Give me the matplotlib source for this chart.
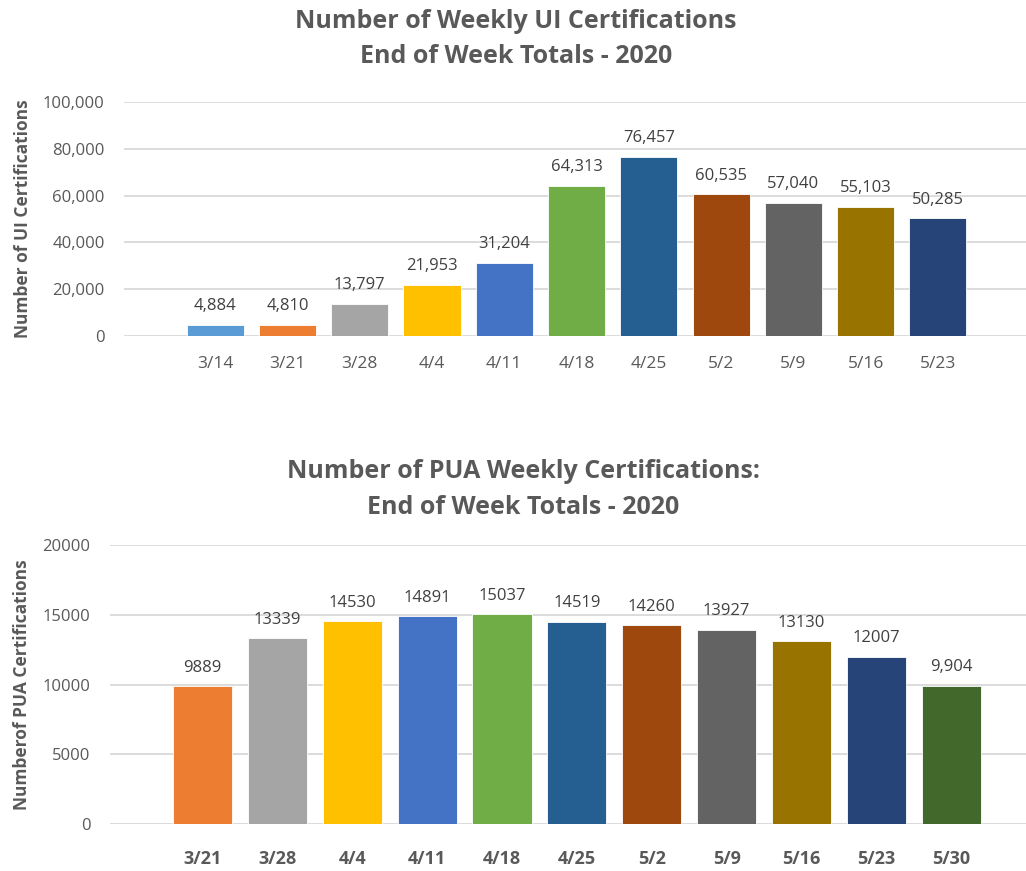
import matplotlib
matplotlib.use("Agg")
import matplotlib.pyplot as plt
from matplotlib.ticker import FuncFormatter

plt.rcParams['font.family'] = ['Open Sans', 'DejaVu Sans']

# ---- Data: UI certifications ----
ui_weeks = ["3/14", "3/21", "3/28", "4/4", "4/11", "4/18", "4/25", "5/2", "5/9", "5/16", "5/23"]
ui_values = [4884, 4810, 13797, 21953, 31204, 64313, 76457, 60535, 57040, 55103, 50285]
ui_labels = ["4,884", "4,810", "13,797", "21,953", "31,204", "64,313", "76,457",
             "60,535", "57,040", "55,103", "50,285"]
ui_colors = ["#5B9BD5", "#ED7D31", "#A5A5A5", "#FFC000", "#4472C4", "#70AD47",
             "#255E91", "#9E480E", "#636363", "#997300", "#264478"]

# ---- Data: PUA certifications ----
pua_weeks = ["3/21", "3/28", "4/4", "4/11", "4/18", "4/25", "5/2", "5/9", "5/16", "5/23", "5/30"]
pua_values = [9889, 13339, 14530, 14891, 15037, 14519, 14260, 13927, 13130, 12007, 9904]
pua_labels = ["9889", "13339", "14530", "14891", "15037", "14519", "14260",
              "13927", "13130", "12007", "9,904"]
pua_colors = ["#ED7D31", "#A5A5A5", "#FFC000", "#4472C4", "#70AD47", "#255E91",
              "#9E480E", "#636363", "#997300", "#264478", "#43682B"]

TXT = "#595959"
GRID = "#D9D9D9"

fig = plt.figure(figsize=(10.26, 8.71), dpi=100)

# ---------- Top chart ----------
ax1 = fig.add_axes([0.121, 0.614, 0.879, 0.269])
x1 = range(len(ui_weeks))
bars = ax1.bar(x1, ui_values, width=0.79, color=ui_colors, zorder=3,
               edgecolor="#FFFFFF", linewidth=0.6)
for b, lab in zip(bars, ui_labels):
    ax1.text(b.get_x() + b.get_width() / 2, b.get_height() + 4600, lab,
             ha="center", va="bottom", fontsize=12, color="#404040")
ax1.set_ylim(0, 100000)
ax1.set_yticks(range(0, 100001, 20000))
ax1.yaxis.set_major_formatter(FuncFormatter(lambda v, p: f"{int(v):,}"))
ax1.set_xlim(-1.26, 11.22)
ax1.set_xticks(list(x1))
ax1.set_xticklabels(ui_weeks)
ax1.grid(axis="y", color=GRID, linewidth=1.3, zorder=0)
for s in ax1.spines.values():
    s.set_visible(False)
ax1.tick_params(axis="both", length=0, labelsize=12, colors=TXT)
ax1.tick_params(axis="x", pad=14, labelsize=12.5)
ax1.tick_params(axis="y", pad=14)
ax1.set_ylabel("Number of UI Certifications", fontsize=12.5, fontweight="bold",
               color=TXT, labelpad=8)
fig.text(0.503, 0.955, "Number of Weekly UI Certifications\nEnd of Week Totals - 2020",
         ha="center", va="center", fontsize=18, fontweight="bold", color=TXT,
         linespacing=1.55)

# ---------- Bottom chart ----------
ax2 = fig.add_axes([0.107, 0.054, 0.893, 0.320])
x2 = range(len(pua_weeks))
bars2 = ax2.bar(x2, pua_values, width=0.79, color=pua_colors, zorder=3,
                edgecolor="#FFFFFF", linewidth=0.6)
for b, lab in zip(bars2, pua_labels):
    ax2.text(b.get_x() + b.get_width() / 2, b.get_height() + 750, lab,
             ha="center", va="bottom", fontsize=12, color="#404040")
ax2.set_ylim(0, 20000)
ax2.set_yticks(range(0, 20001, 5000))
ax2.set_xlim(-1.24, 11.0)
ax2.set_xticks(list(x2))
ax2.set_xticklabels(pua_weeks, fontweight="bold")
ax2.grid(axis="y", color=GRID, linewidth=1.3, zorder=0)
for s in ax2.spines.values():
    s.set_visible(False)
ax2.tick_params(axis="both", length=0, labelsize=12, colors=TXT)
ax2.tick_params(axis="x", pad=19, labelsize=13)
ax2.tick_params(axis="y", pad=14)
ax2.set_ylabel("Numberof PUA Certifications", fontsize=12.5, fontweight="bold",
               color=TXT, labelpad=8)
fig.text(0.51, 0.438, "Number of PUA Weekly Certifications:\nEnd of Week Totals - 2020",
         ha="center", va="center", fontsize=18, fontweight="bold", color=TXT,
         linespacing=1.55)

fig.savefig("out.png", dpi=100, facecolor="white")
